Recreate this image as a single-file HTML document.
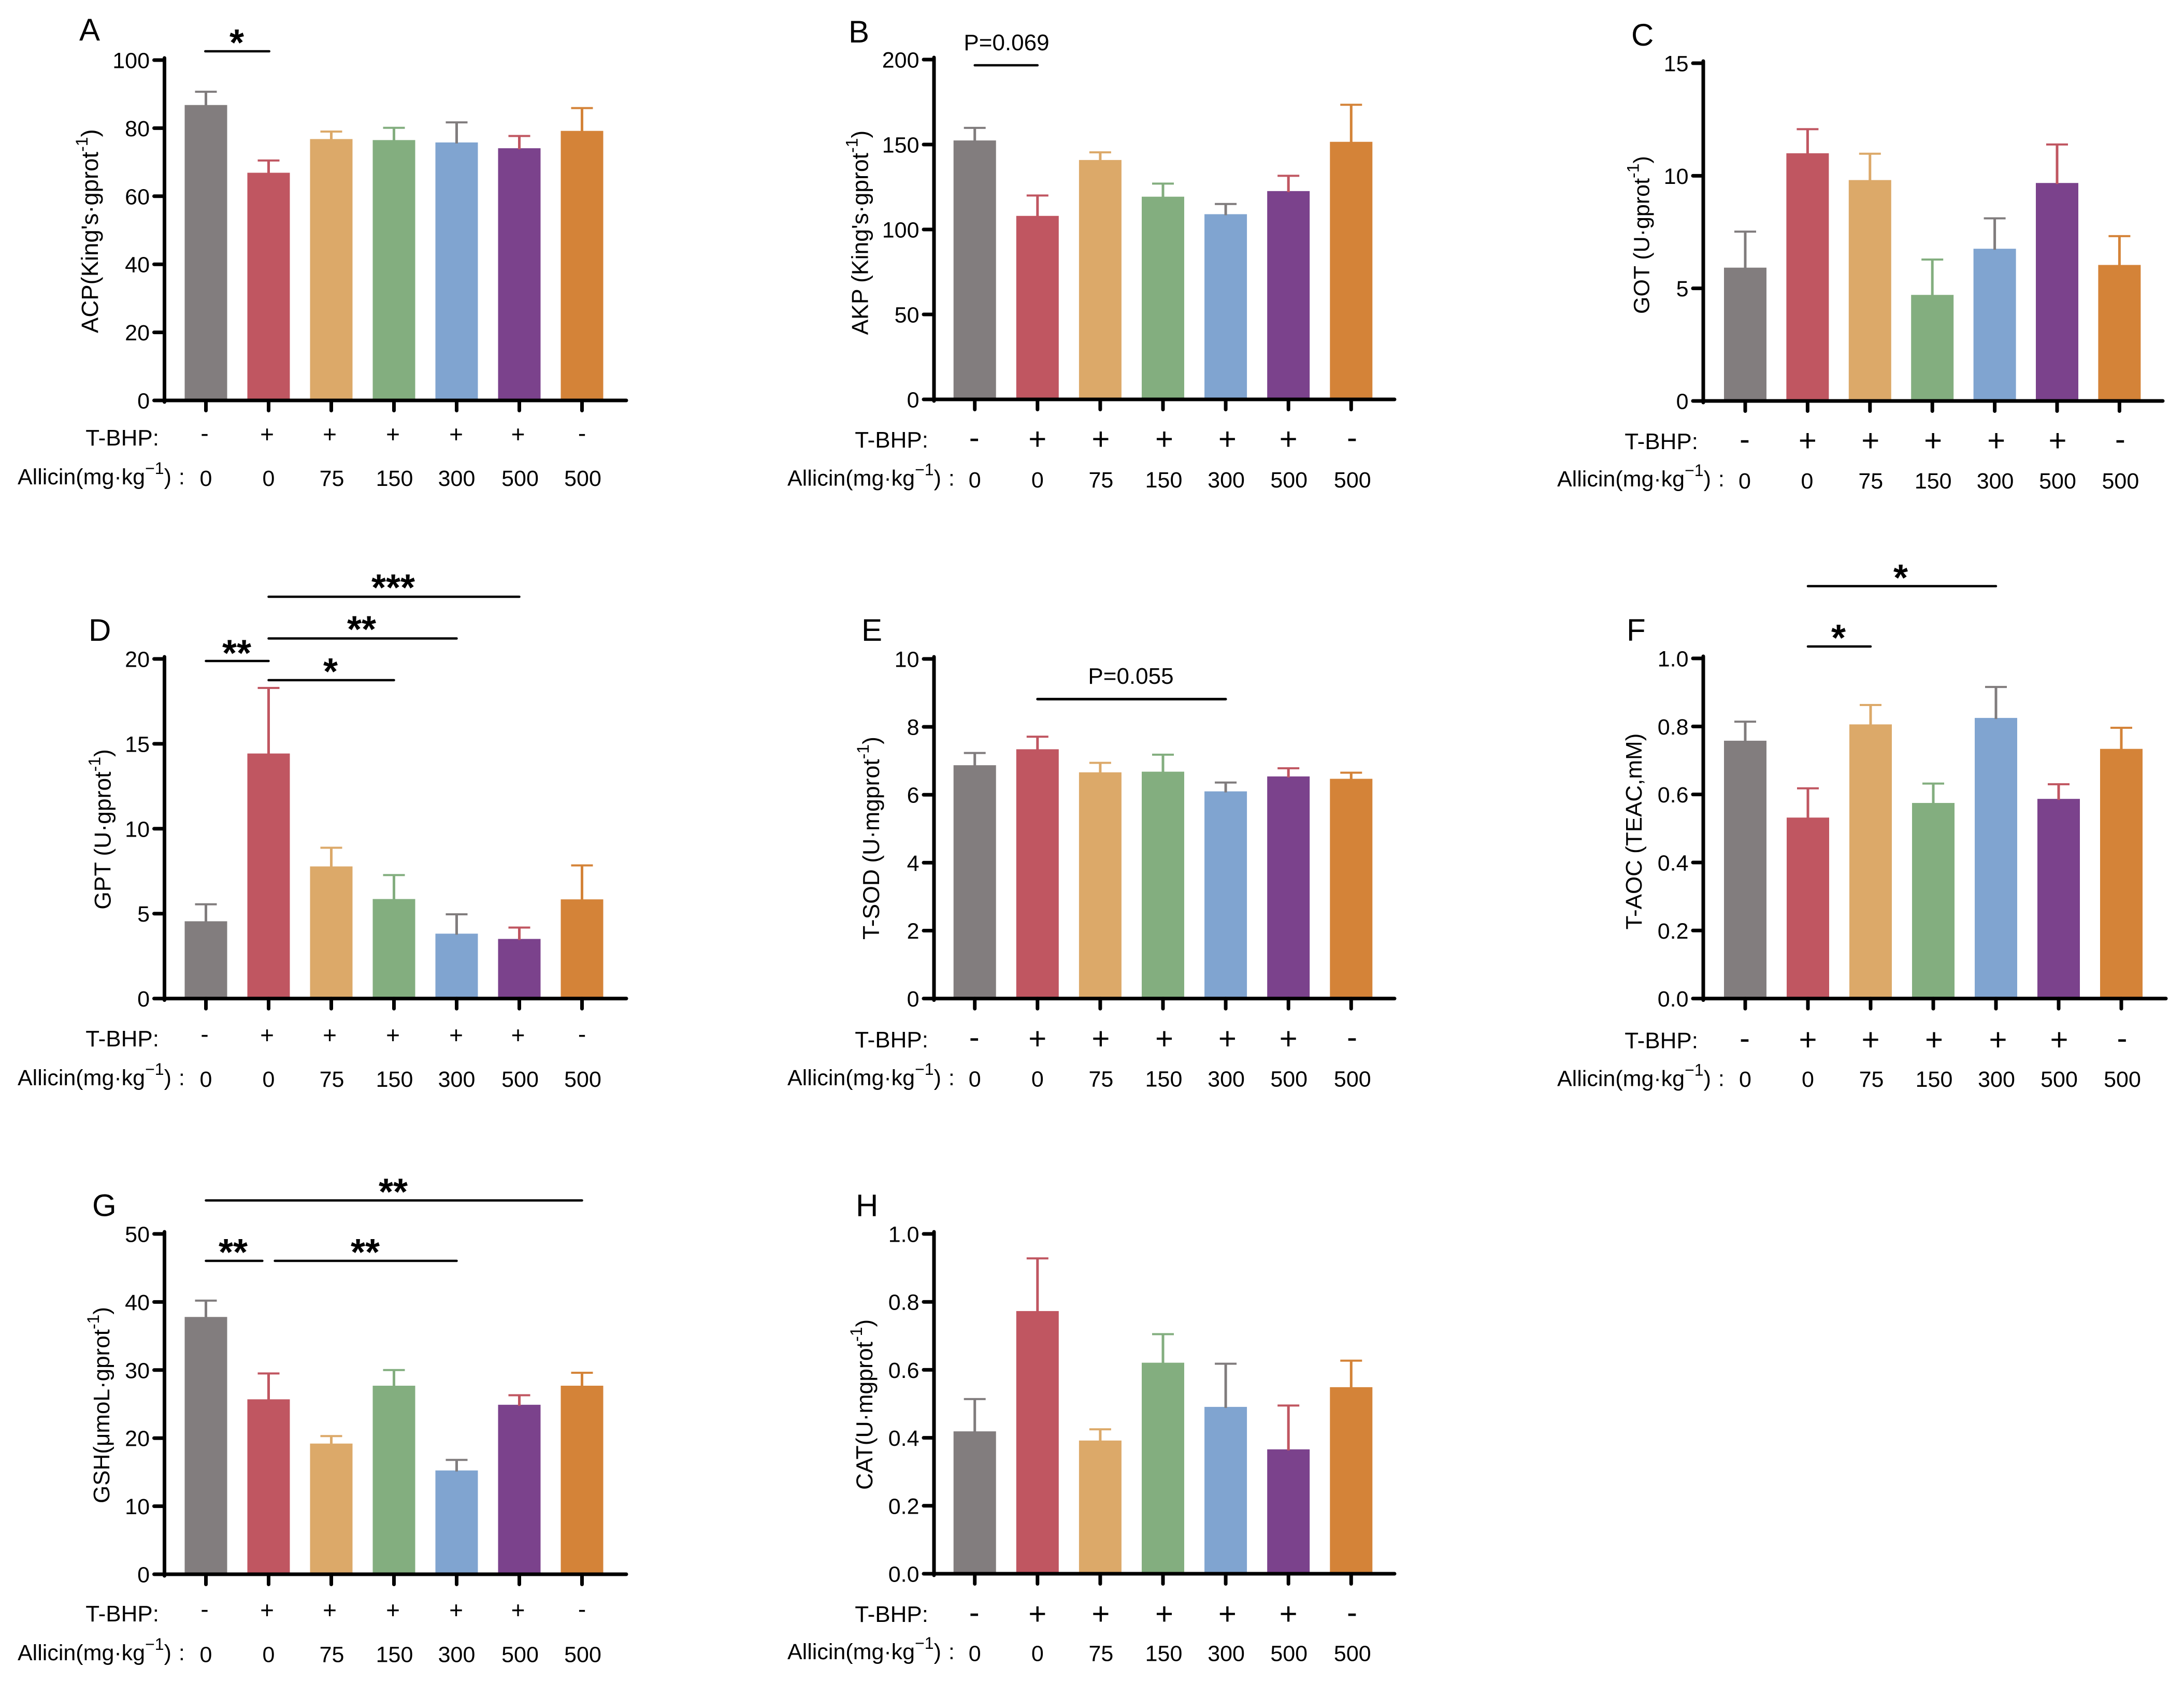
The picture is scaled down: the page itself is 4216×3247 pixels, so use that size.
<!DOCTYPE html>
<html lang="en">
<head>
<meta charset="utf-8">
<title>Allicin biochemical indices bar charts</title>
<style>
html,body{margin:0;padding:0;background:#fff;}
svg{display:block;}
text{font-family:"Liberation Sans",Arial,sans-serif;fill:#000;}
</style>
</head>
<body>
<svg id="figure" xmlns="http://www.w3.org/2000/svg" width="4216" height="3247" viewBox="0 0 4216 3247">
<rect x="0" y="0" width="4216" height="3247" fill="#fff"/>
</svg>
<script>
// ---------- shared category data ----------
const tbhpLabels = ['-', '+', '+', '+', '+', '+', '-'];
const allicinDoses = ['0', '0', '75', '150', '300', '500', '500'];

// ---------- series data (means and top of error bars) ----------
const acpMeans = [86.8, 66.9, 76.8, 76.5, 75.8, 74.1, 79.2];
const acpErrorTops = [90.7, 70.5, 79.0, 80.1, 81.7, 77.7, 85.9];
const acpTicks = [0, 20, 40, 60, 80, 100];
const acpTickLabels = ['0', '20', '40', '60', '80', '100'];

const akpMeans = [152.4, 108.0, 140.9, 119.3, 109.0, 122.6, 151.6];
const akpErrorTops = [159.8, 120.0, 145.4, 127.0, 115.0, 131.6, 173.4];
const akpTicks = [0, 50, 100, 150, 200];
const akpTickLabels = ['0', '50', '100', '150', '200'];

const gotMeans = [5.92, 11.0, 9.81, 4.71, 6.76, 9.68, 6.04];
const gotErrorTops = [7.52, 12.07, 10.98, 6.28, 8.11, 11.39, 7.32];
const gotTicks = [0, 5, 10, 15];
const gotTickLabels = ['0', '5', '10', '15'];

const gptMeans = [4.55, 14.43, 7.78, 5.86, 3.82, 3.51, 5.84];
const gptErrorTops = [5.55, 18.29, 8.88, 7.27, 4.96, 4.18, 7.84];
const gptTicks = [0, 5, 10, 15, 20];
const gptTickLabels = ['0', '5', '10', '15', '20'];

const sodMeans = [6.87, 7.34, 6.66, 6.68, 6.10, 6.54, 6.47];
const sodErrorTops = [7.23, 7.71, 6.94, 7.18, 6.36, 6.78, 6.65];
const sodTicks = [0, 2, 4, 6, 8, 10];
const sodTickLabels = ['0', '2', '4', '6', '8', '10'];

const aocMeans = [0.758, 0.532, 0.806, 0.575, 0.825, 0.587, 0.734];
const aocErrorTops = [0.814, 0.618, 0.863, 0.632, 0.916, 0.630, 0.796];
const aocTicks = [0, 0.2, 0.4, 0.6, 0.8, 1.0];
const aocTickLabels = ['0.0', '0.2', '0.4', '0.6', '0.8', '1.0'];

const gshMeans = [37.8, 25.7, 19.2, 27.7, 15.25, 24.9, 27.7];
const gshErrorTops = [40.2, 29.5, 20.3, 30.0, 16.8, 26.3, 29.6];
const gshTicks = [0, 10, 20, 30, 40, 50];
const gshTickLabels = ['0', '10', '20', '30', '40', '50'];

const catMeans = [0.419, 0.773, 0.392, 0.621, 0.491, 0.366, 0.549];
const catErrorTops = [0.514, 0.928, 0.425, 0.705, 0.618, 0.495, 0.627];
const catTicks = [0, 0.2, 0.4, 0.6, 0.8, 1.0];
const catTickLabels = ['0.0', '0.2', '0.4', '0.6', '0.8', '1.0'];

// ---------- styling ----------
const barColors = ['#827d7e', '#c05661', '#dca969', '#83ae7f', '#80a4d0', '#7b428c', '#d48338'];
const errColors = ['#807c7d', '#c05661', '#dca969', '#83ae7f', '#807c7d', '#c05661', '#d48338'];

// ---------- column layouts (offsets of row text from the category centre) ----------
const colLeft = {axisX: 317.5, firstX: 397.5, stepX: 121, endX: 1209, labelRight: 307, allicinLeft: 34,
  signDx: [-2.5, -3, -3, -2, -1, -2.5, 0], doseDx: [0, 0, 1, 1, 0, 1.5, 1.5], signSize: 46};
const colMid = {axisX: 1803, firstX: 1881.7, stepX: 121.1, endX: 2692, labelRight: 1792, allicinLeft: 1520,
  signDx: [-1, 0, 1, 2.5, 3.3, 0, 1.7], doseDx: [0, 0, 1.5, 1.5, 1, 1, 2.5], signSize: 60};
const colRight = {axisX: 3288, firstX: 3369, stepX: 120.4, endX: 4175, labelRight: 3278, allicinLeft: 3006,
  signDx: [-1, 0, 1, 1.5, 3, 1, 1.5], doseDx: [-1, -1, 1.5, 1.5, 1, 1, 2], signSize: 60};
const colRightF = {axisX: 3288, firstX: 3369, stepX: 121, endX: 4181, labelRight: 3278, allicinLeft: 3006,
  signDx: [-1, 0, 0, 1.5, 4, 1, 1.5], doseDx: [0, 0, 1.5, 1.5, 1, 1, 2], signSize: 60};

const panels = [
  {key: 'acp', letter: 'A', letterX: 153, letterY: 78, col: colLeft, yTop: 116, y0: 773, max: 100,
   means: acpMeans, tops: acpErrorTops, ticks: acpTicks, tickLabels: acpTickLabels,
   title: 'ACP(King\'s·gprot', titleSize: 45.5, titleX: 189, titleBottom: 643,
   tbhpBase: 860, signCenter: 838, allicinBase: 935, doseBase: 938,
   lines: [{from: -0.01, to: 1.01, y: 99}], stars: [{t: '*', x: 457, y: 70}]},
  {key: 'akp', letter: 'B', letterX: 1638, letterY: 82, col: colMid, yTop: 115, y0: 771, max: 200,
   means: akpMeans, tops: akpErrorTops, ticks: akpTicks, tickLabels: akpTickLabels,
   title: 'AKP (King\'s·gprot', titleSize: 44.5, titleX: 1675.5, titleBottom: 646.5,
   tbhpBase: 864, signCenter: 847, allicinBase: 937.5, doseBase: 941,
   lines: [{from: 0, to: 1, y: 126}], notes: [{t: 'P=0.069', x: 1943, y: 97}]},
  {key: 'got', letter: 'C', letterX: 3149, letterY: 88, col: colRight, yTop: 122, y0: 774, max: 15,
   means: gotMeans, tops: gotErrorTops, ticks: gotTicks, tickLabels: gotTickLabels,
   title: 'GOT (U·gprot', titleSize: 43, titleX: 3183.5, titleBottom: 606,
   tbhpBase: 867, signCenter: 850, allicinBase: 939, doseBase: 943},
  {key: 'gpt', letter: 'D', letterX: 171, letterY: 1237, col: colLeft, yTop: 1272, y0: 1927.6, max: 20,
   means: gptMeans, tops: gptErrorTops, ticks: gptTicks, tickLabels: gptTickLabels,
   title: 'GPT (U·gprot', titleSize: 44.5, titleX: 213.6, titleBottom: 1755.7,
   tbhpBase: 2020, signCenter: 1998, allicinBase: 2095, doseBase: 2098,
   lines: [{from: 0, to: 1, y: 1276}, {from: 1, to: 3, y: 1313}, {from: 1, to: 4, y: 1232.5}, {from: 1, to: 5, y: 1152}],
   stars: [{t: '**', x: 457, y: 1248.6}, {t: '*', x: 638, y: 1284}, {t: '**', x: 698, y: 1202.4}, {t: '***', x: 759, y: 1122}]},
  {key: 'sod', letter: 'E', letterX: 1663, letterY: 1237, col: colMid, yTop: 1272, y0: 1927.6, max: 10,
   means: sodMeans, tops: sodErrorTops, ticks: sodTicks, tickLabels: sodTickLabels,
   title: 'T-SOD (U·mgprot', titleSize: 44.5, titleX: 1697, titleBottom: 1814,
   tbhpBase: 2022, signCenter: 2004.6, allicinBase: 2095, doseBase: 2097.5,
   lines: [{from: 1, to: 4, y: 1349.6, w: 5}], notes: [{t: 'P=0.055', x: 2183, y: 1320}]},
  {key: 'aoc', letter: 'F', letterX: 3140, letterY: 1237, col: colRightF, yTop: 1271, y0: 1927.6, max: 1,
   means: aocMeans, tops: aocErrorTops, ticks: aocTicks, tickLabels: aocTickLabels,
   title: 'T-AOC (TEAC,mM)', noSup: true, titleSize: 44, titleX: 3169, titleBottom: 1794.5,
   tbhpBase: 2023.6, signCenter: 2006.6, allicinBase: 2096.5, doseBase: 2098,
   lines: [{from: 1, to: 2, y: 1248}, {from: 1, to: 4, y: 1131.5}],
   stars: [{t: '*', x: 3549, y: 1219}, {t: '*', x: 3669, y: 1103}]},
  {key: 'gsh', letter: 'G', letterX: 178, letterY: 2347.5, col: colLeft, yTop: 2382, y0: 3039, max: 50,
   means: gshMeans, tops: gshErrorTops, ticks: gshTicks, tickLabels: gshTickLabels,
   title: 'GSH(μmoL·gprot', titleSize: 44, titleX: 211, titleBottom: 2902,
   tbhpBase: 3130, signCenter: 3108, allicinBase: 3205, doseBase: 3208.5,
   lines: [{from: 0, to: 6, y: 2317.4}, {from: 0, to: 0.9, y: 2434}, {from: 1.1, to: 4, y: 2434}],
   stars: [{t: '**', x: 759, y: 2288.7}, {t: '**', x: 450, y: 2405}, {t: '**', x: 705, y: 2405}]},
  {key: 'cat', letter: 'H', letterX: 1652, letterY: 2348, col: colMid, yTop: 2382, y0: 3038, max: 1,
   means: catMeans, tops: catErrorTops, ticks: catTicks, tickLabels: catTickLabels,
   title: 'CAT(U·mgprot', titleSize: 44.5, titleX: 1684, titleBottom: 2876,
   tbhpBase: 3131, signCenter: 3115, allicinBase: 3203, doseBase: 3206.6}
];

const SVG_NS = 'http://www.w3.org/2000/svg';
const figure = document.getElementById('figure');

function make(tag, parent, props) {
  const el = document.createElementNS(SVG_NS, tag);
  for (const k in props) el.setAttribute(k, props[k]);
  parent.appendChild(el);
  return el;
}
function addSpan(parent, txt, props) {
  const t = make('tspan', parent, props || {});
  t.textContent = txt;
  return t;
}

panels.forEach(function (p) {
  const c = p.col;
  const xScale = function (i) { return c.firstX + c.stepX * i; };
  const yScale = function (v) { return p.y0 - (v / p.max) * (p.y0 - p.yTop); };

  const g = make('g', figure, {});
  
  

  // bars
  p.means.forEach(function (v, i) {
    const cx = xScale(i);
    const barTop = yScale(v);
    const errTop = yScale(p.tops[i]);

    const bar = make('rect', g, {x: cx - 41, y: barTop, width: 82, height: p.y0 - barTop, fill: barColors[i]});
    
    

    const stem = make('rect', g, {x: cx - 2.5, y: errTop, width: 5, height: barTop - errTop + 2, fill: errColors[i]});
    
    

    const cap = make('rect', g, {x: cx - 21, y: errTop - 2, width: 42, height: 4, fill: errColors[i]});
    
    
  });

  // axes
  const yAxis = make('line', g, {x1: c.axisX, x2: c.axisX, y1: p.yTop - 4, y2: p.y0 + 3, stroke: '#000', 'stroke-width': 7, 'stroke-linecap': 'round'});
  
  

  const xAxis = make('line', g, {x1: c.axisX, x2: c.endX, y1: p.y0, y2: p.y0, stroke: '#000', 'stroke-width': 7, 'stroke-linecap': 'round'});
  
  

  // y ticks
  p.ticks.forEach(function (v, i) {
    const y = yScale(v);
    const tick = make('line', g, {x1: c.axisX - 20, x2: c.axisX, y1: y, y2: y, stroke: '#000', 'stroke-width': 7, 'stroke-linecap': 'round'});
    
    

    const label = make('text', g, {x: c.axisX - 28.5, y: y + 15.5, 'font-size': 43, 'text-anchor': 'end'});
    label.textContent = p.tickLabels[i];
    
    
  });

  // x ticks + rows
  tbhpLabels.forEach(function (s, i) {
    const cx = xScale(i);
    const tick = make('line', g, {x1: cx, x2: cx, y1: p.y0, y2: p.y0 + 19.5, stroke: '#000', 'stroke-width': 7, 'stroke-linecap': 'round'});
    
    

    const signLift = s === '+' ? 0.35 : 0.30;
    const sign = make('text', g, {x: cx + c.signDx[i], y: p.signCenter + c.signSize * signLift, 'font-size': c.signSize, 'text-anchor': 'middle'});
    sign.textContent = s;
    
    

    const dose = make('text', g, {x: cx + c.doseDx[i], y: p.doseBase, 'font-size': 43, 'text-anchor': 'middle'});
    dose.textContent = allicinDoses[i];
    
    
  });

  // row headings
  const tbhpHead = make('text', g, {x: c.labelRight, y: p.tbhpBase, 'font-size': 44, 'text-anchor': 'end'});
  tbhpHead.textContent = 'T-BHP:';
  
  

  const allicinHead = make('text', g, {x: c.allicinLeft, y: p.allicinBase, 'font-size': 43, 'xml:space': 'preserve'});
  
  
  addSpan(allicinHead, 'Allicin(mg·kg');
  addSpan(allicinHead, '−1', {dy: -20, 'font-size': 32});
  addSpan(allicinHead, ')', {dy: 20});
  addSpan(allicinHead, ':', {dx: 14});

  // y-axis title
  const title = make('text', g, {x: p.titleX, y: p.titleBottom, 'font-size': p.titleSize, transform: 'rotate(-90 ' + p.titleX + ' ' + p.titleBottom + ')'});
  
  
  addSpan(title, p.title);
  if (!p.noSup) {
    addSpan(title, '-1', {dy: -20, 'font-size': 32});
    addSpan(title, ')', {dy: 20});
  }

  // panel letter
  const letter = make('text', g, {x: p.letterX, y: p.letterY, 'font-size': 60});
  letter.textContent = p.letter;
  
  

  // significance annotations
  (p.lines || []).forEach(function (l, i) {
    const line = make('line', g, {x1: xScale(l.from), x2: xScale(l.to), y1: l.y, y2: l.y, stroke: '#000', 'stroke-width': l.w || 4.5, 'stroke-linecap': 'round'});
    
    
  });
  (p.stars || []).forEach(function (s, i) {
    const star = make('text', g, {x: s.x, y: s.y + 37, 'font-size': 72, 'font-weight': 'bold', 'text-anchor': 'middle'});
    star.textContent = s.t;
    
    
  });
  (p.notes || []).forEach(function (n, i) {
    const note = make('text', g, {x: n.x, y: n.y, 'font-size': 44, 'text-anchor': 'middle'});
    note.textContent = n.t;
    
    
  });
});
</script>
</body>
</html>
